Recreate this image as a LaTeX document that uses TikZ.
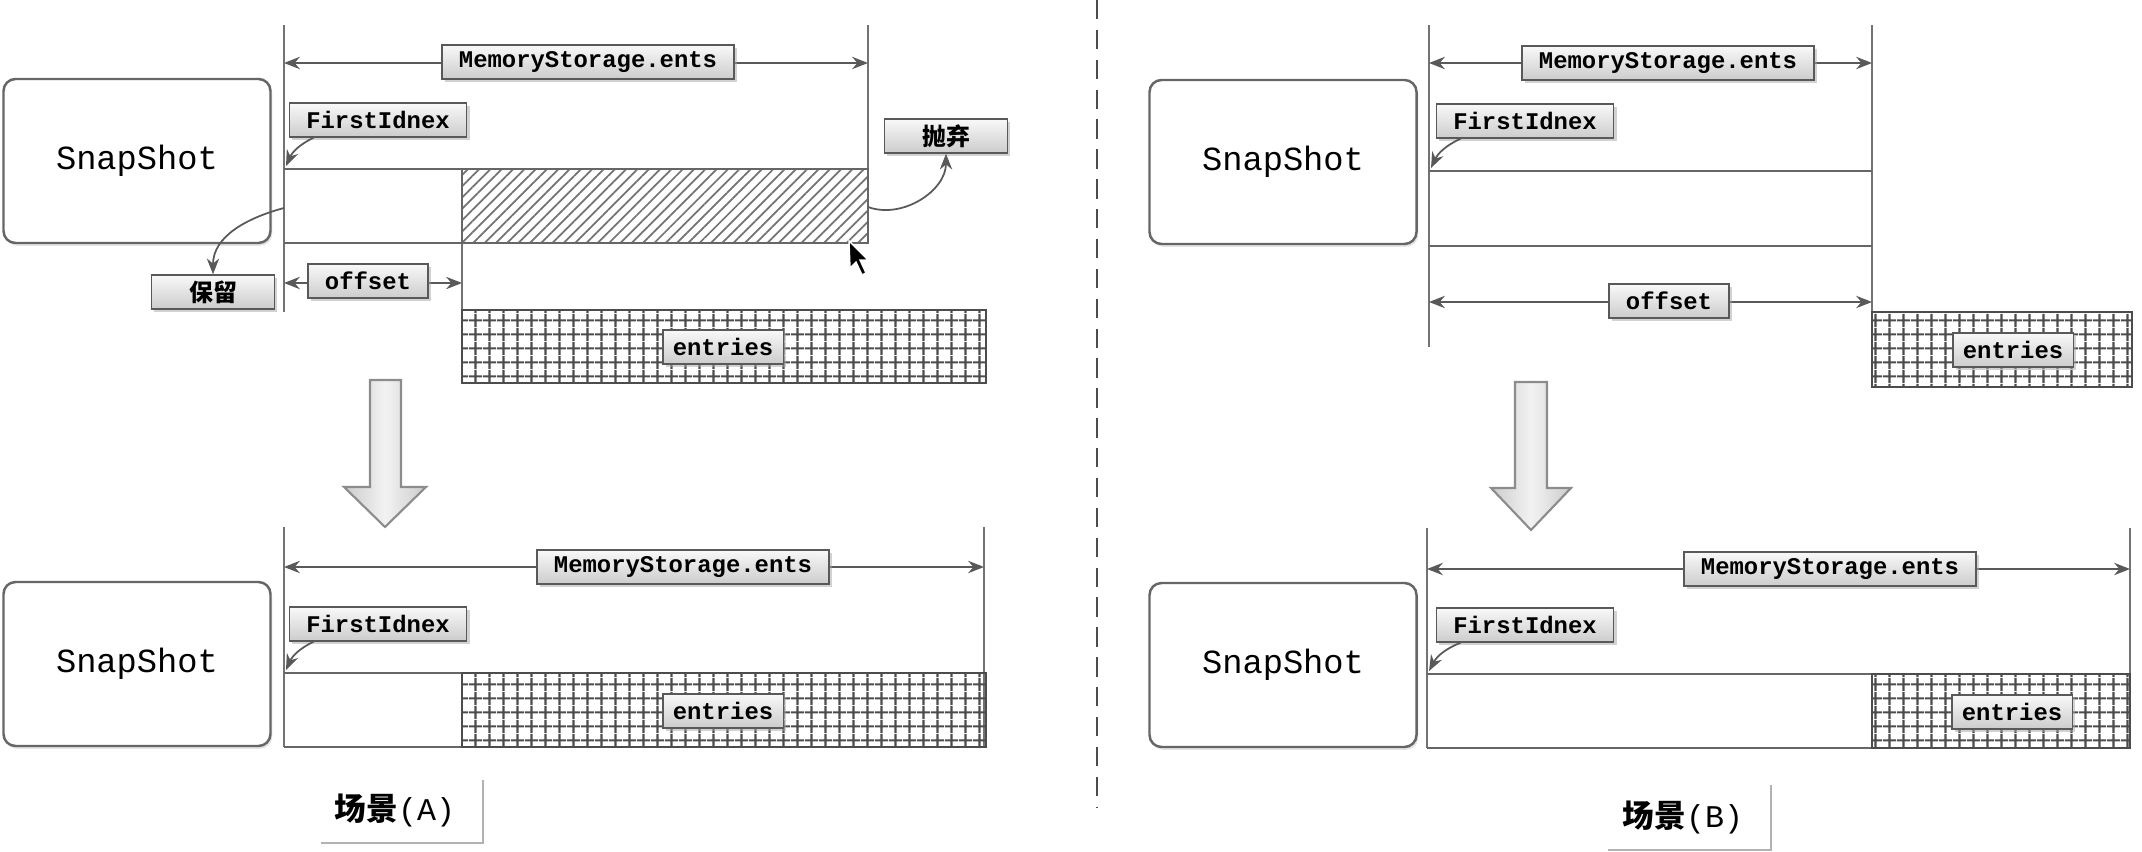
\documentclass[tikz,border=0pt]{standalone}
\usepackage{fontspec}
\newfontfamily\monofont{Liberation Mono}
\newfontfamily\cjkfont{Noto Sans CJK SC}
\usetikzlibrary{arrows.meta,patterns.meta,shadows}
\tikzset{
  tag/.style={draw=black!65, top color=gray!5, bottom color=gray!40, inner xsep=0.17cm, inner ysep=0pt,
    minimum height=0.34cm, font=\monofont\bfseries\fontsize{6.8}{7}\selectfont,
    drop shadow={shadow xshift=0.8pt, shadow yshift=-0.8pt, fill=black!35}},
  cntag/.style={tag, minimum width=1.23cm, font=\cjkfont\bfseries\fontsize{6.8}{7}\selectfont},
  snapbox/.style={draw=black!60, fill=white, line width=0.7pt, rounded corners=0.12cm, minimum width=2.67cm,
    minimum height=1.64cm, font=\monofont\fontsize{9.6}{11}\selectfont,
    drop shadow={shadow xshift=0.5pt, shadow yshift=-0.8pt, fill=black!20}},
  guide/.style={black!55, line width=0.4pt},
  barline/.style={black!60, line width=0.8pt},
  dim/.style={<->, black!65, line width=0.6pt},
  pointer/.style={->, black!65, line width=0.5pt},
  gridbox/.style={draw=black!70, line width=0.8pt, pattern={Hatch[angle=0,distance=0.14cm,line width=0.65pt]},
    pattern color=black!70},
  dropbox/.style={draw=black!60, line width=0.8pt, pattern={Lines[angle=45,distance=0.08cm,line width=0.5pt]},
    pattern color=black!55},
  bigarrow/.style={draw=black!45, line width=0.6pt, left color=gray!40, right color=gray!40, middle color=gray!10},
  caption/.style={font=\fontsize{9}{10}\selectfont},
}
\begin{document}
\begin{tikzpicture}[>={Stealth[length=4.5pt,width=3.5pt]}]
\useasboundingbox (0,0) rectangle (21.42,-8.52);
% scene A, before
\draw[guide] (2.84,-0.25) -- (2.84,-3.12);
\draw[guide] (8.68,-0.25) -- (8.68,-2.43);
\draw[guide] (4.62,-1.69) -- (4.62,-3.10);
\coordinate (msA1) at (2.84,-0.63);
\coordinate (msA2) at (8.68,-0.63);
\draw[dim] (msA1) -- (msA2);
\node[tag] (msA) at (5.88,-0.62) {MemoryStorage.ents};
\node[snapbox] (snapA) at (1.37,-1.61) {SnapShot};
\draw[barline] (2.84,-1.69) -- (8.68,-1.69);
\draw[barline] (2.84,-2.43) -- (8.68,-2.43);
\draw[dropbox] (4.62,-1.69) rectangle (8.68,-2.43);
\node[tag] (fiA) at (3.78,-1.20) {FirstIdnex};
\coordinate (fiAend) at (2.86,-1.66);
\draw[pointer] ([xshift=0.25cm]fiA.south west) to[bend right=20] (fiAend);
\node[cntag] (keep) at (2.13,-2.92) {保留};
\coordinate (keepA) at (2.84,-2.08);
\draw[pointer] (keepA) to[out=195,in=90] (keep.north);
\node[cntag] (drop) at (9.46,-1.36) {抛弃};
\coordinate (dropA) at (8.68,-2.07);
\draw[pointer] (dropA) to[out=-20,in=-90] (drop.south);
\coordinate (ofA1) at (2.84,-2.83);
\coordinate (ofA2) at (4.62,-2.83);
\draw[dim] (ofA1) -- (ofA2);
\node[tag] (ofA) at (3.68,-2.81) {offset};
\draw[gridbox] (4.62,-3.10) rectangle (9.86,-3.83);
\node[tag, inner xsep=0.1cm] (enA) at (7.23,-3.47) {entries};
\fill[black, draw=white, line width=0.4pt] (8.49,-2.41) -- (8.50,-2.68) -- (8.56,-2.62) -- (8.62,-2.75)
  -- (8.66,-2.73) -- (8.60,-2.60) -- (8.68,-2.60) -- cycle;
\draw[bigarrow] (3.70,-3.80) -- (3.70,-4.87) -- (3.44,-4.87) -- (3.85,-5.27) -- (4.26,-4.87)
  -- (4.01,-4.87) -- (4.01,-3.80) -- cycle;
% scene A, after
\draw[guide] (2.84,-5.27) -- (2.84,-7.47);
\draw[guide] (9.84,-5.27) -- (9.84,-7.47);
\coordinate (msC1) at (2.84,-5.67);
\coordinate (msC2) at (9.84,-5.67);
\draw[dim] (msC1) -- (msC2);
\node[tag] (msC) at (6.83,-5.67) {MemoryStorage.ents};
\node[snapbox] (snapC) at (1.37,-6.64) {SnapShot};
\draw[barline] (2.84,-6.73) -- (9.86,-6.73);
\draw[barline] (2.84,-7.47) -- (9.86,-7.47);
\draw[gridbox] (4.62,-6.73) rectangle (9.86,-7.47);
\node[tag] (fiC) at (3.78,-6.24) {FirstIdnex};
\coordinate (fiCend) at (2.86,-6.70);
\draw[pointer] ([xshift=0.25cm]fiC.south west) to[bend right=20] (fiCend);
\node[tag, inner xsep=0.1cm] (enC) at (7.23,-7.11) {entries};
\node[caption] (capA) at (3.95,-8.10) {\cjkfont\bfseries 场景\monofont\mdseries(A)};
\draw[black!30] (3.21,-8.43) -- (4.83,-8.43) -- (4.83,-7.80);
% separator
\draw[black!70, line width=0.6pt, dash pattern=on 5.5pt off 3pt] (10.97,0) -- (10.97,-8.08);
% scene B, before
\draw[guide] (14.29,-0.25) -- (14.29,-3.47);
\draw[guide] (18.72,-0.25) -- (18.72,-3.12);
\coordinate (msB1) at (14.29,-0.63);
\coordinate (msB2) at (18.72,-0.63);
\draw[dim] (msB1) -- (msB2);
\node[tag] (msB) at (16.68,-0.63) {MemoryStorage.ents};
\node[snapbox] (snapB) at (12.83,-1.62) {SnapShot};
\draw[barline] (14.29,-1.71) -- (18.72,-1.71);
\draw[barline] (14.29,-2.46) -- (18.72,-2.46);
\node[tag] (fiB) at (15.25,-1.21) {FirstIdnex};
\coordinate (fiBend) at (14.31,-1.68);
\draw[pointer] ([xshift=0.25cm]fiB.south west) to[bend right=20] (fiBend);
\coordinate (ofB1) at (14.29,-3.02);
\coordinate (ofB2) at (18.72,-3.02);
\draw[dim] (ofB1) -- (ofB2);
\node[tag] (ofB) at (16.69,-3.01) {offset};
\draw[gridbox] (18.72,-3.12) rectangle (21.32,-3.87);
\node[tag, inner xsep=0.1cm] (enB) at (20.13,-3.50) {entries};
\draw[bigarrow] (15.15,-3.82) -- (15.15,-4.88) -- (14.91,-4.88) -- (15.31,-5.30) -- (15.71,-4.88)
  -- (15.47,-4.88) -- (15.47,-3.82) -- cycle;
% scene B, after
\draw[guide] (14.27,-5.28) -- (14.27,-7.48);
\draw[guide] (21.30,-5.28) -- (21.30,-7.48);
\coordinate (msD1) at (14.27,-5.69);
\coordinate (msD2) at (21.30,-5.69);
\draw[dim] (msD1) -- (msD2);
\node[tag] (msD) at (18.30,-5.69) {MemoryStorage.ents};
\node[snapbox] (snapD) at (12.83,-6.65) {SnapShot};
\draw[barline] (14.27,-6.74) -- (21.30,-6.74);
\draw[barline] (14.27,-7.48) -- (21.30,-7.48);
\draw[gridbox] (18.72,-6.74) rectangle (21.30,-7.48);
\node[tag] (fiD) at (15.25,-6.25) {FirstIdnex};
\coordinate (fiDend) at (14.29,-6.71);
\draw[pointer] ([xshift=0.25cm]fiD.south west) to[bend right=20] (fiDend);
\node[tag, inner xsep=0.1cm] (enD) at (20.12,-7.12) {entries};
\node[caption] (capB) at (16.83,-8.17) {\cjkfont\bfseries 场景\monofont\mdseries(B)};
\draw[black!30] (16.08,-8.50) -- (17.71,-8.50) -- (17.71,-7.85);
\end{tikzpicture}
\end{document}
